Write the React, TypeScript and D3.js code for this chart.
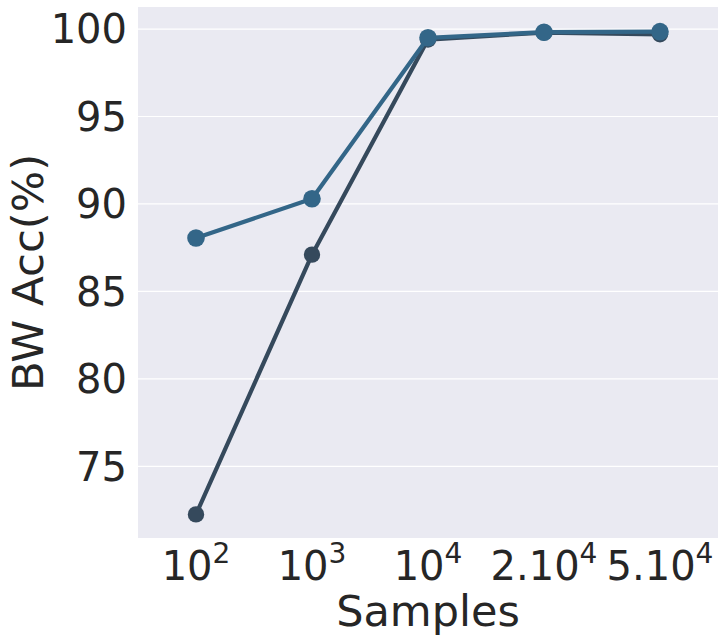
import React from "react";
import * as d3 from "d3";

const categories = ["10^2", "10^3", "10^4", "2.10^4", "5.10^4"];
const seriesLight = [88.05, 90.3, 99.5, 99.82, 99.85];
const seriesDark = [72.25, 87.1, 99.4, 99.8, 99.7];
const yTicks = [75, 80, 85, 90, 95, 100];

const W = 725, H = 641;
const left = 138, right = 718, top = 7, bottom = 538;

export default function App() {
  const x = d3.scalePoint<string>().domain(categories).range([left, right]).padding(0.5);
  const y = d3.scaleLinear().domain([70.9, 101.26]).range([bottom, top]);
  const line = d3.line<number>().x((_, i) => x(categories[i])!).y((d) => y(d));
  const font = "'DejaVu Sans', sans-serif";
  const txt = "#262626";
  const series = [
    { data: seriesDark, color: "#35495c", r: 8.2 },
    { data: seriesLight, color: "#336688", r: 8.8 },
  ];
  return (
    <svg width={W} height={H} style={{ position: "absolute", left: 0, top: 0 }} fontFamily={font}>
      <rect x={0} y={0} width={W} height={H} fill="#fff" />
      <rect x={left} y={top} width={right - left} height={bottom - top} fill="#eaeaf2" />
      {yTicks.map((t) => (
        <g key={t}>
          <line x1={left} x2={right} y1={y(t)} y2={y(t)} stroke="#fff" strokeWidth={1.2} />
          <text x={127} y={y(t)} dy="0.36em" textAnchor="end" fontSize={40} fill={txt}>{t}</text>
        </g>
      ))}
      {series.map((s, k) => (
        <g key={k}>
          <path d={line(s.data)!} fill="none" stroke={s.color} strokeWidth={4.2} strokeLinejoin="round" />
          {s.data.map((v, i) => (
            <circle key={i} cx={x(categories[i])} cy={y(v)} r={s.r} fill={s.color} />
          ))}
        </g>
      ))}
      {categories.map((c) => {
        const [base, exp] = c.split("^");
        return (
          <text key={c} x={x(c)} y={580} textAnchor="middle" fontSize={40} fill={txt}>
            {base}
            <tspan fontSize={28} dy={-17}>{exp}</tspan>
          </text>
        );
      })}
      <text x={(left + right) / 2} y={626} textAnchor="middle" fontSize={43} fill={txt}>Samples</text>
      <text transform={`translate(43, ${(top + bottom) / 2}) rotate(-90)`} textAnchor="middle" fontSize={43.5} fill={txt}>BW Acc(%)</text>
    </svg>
  );
}
